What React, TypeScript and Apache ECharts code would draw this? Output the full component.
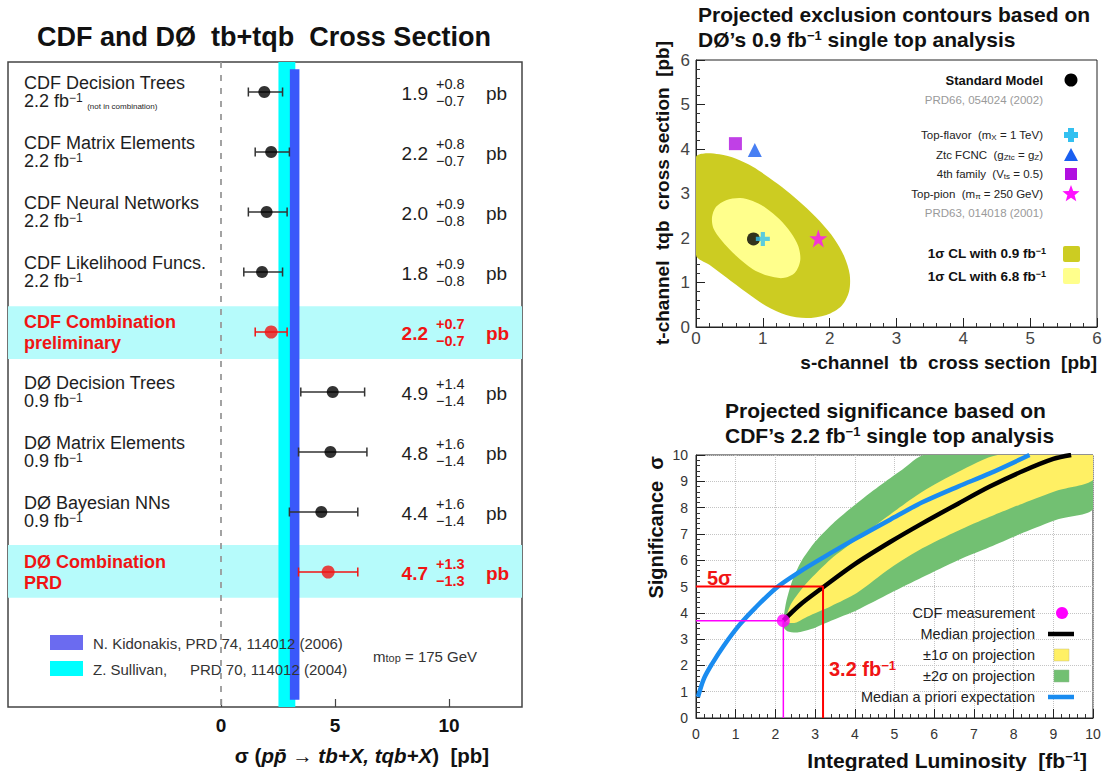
import React, { useEffect, useRef } from "react";
import * as echarts from "echarts";

const FONT = "'Liberation Sans', Arial, Helvetica, sans-serif";
const RED = "#f01414";
const INK = "#1e1e1e";

// ---------------- Left panel: cross-section summary ----------------
const measurementNames = [
  "CDF Decision Trees", "CDF Matrix Elements", "CDF Neural Networks", "CDF Likelihood Funcs.",
  "CDF Combination", "DØ Decision Trees", "DØ Matrix Elements", "DØ Bayesian NNs", "DØ Combination",
];
const measurementSubLabels = ["2.2 fb", "2.2 fb", "2.2 fb", "2.2 fb", "preliminary", "0.9 fb", "0.9 fb", "0.9 fb", "PRD"];
const subLabelHasInvFb = [true, true, true, true, false, true, true, true, false];
const measurementNotes = ["(not in combination)", "", "", "", "", "", "", "", ""];
const xsecCentral = [1.9, 2.2, 2.0, 1.8, 2.2, 4.9, 4.8, 4.4, 4.7];
const xsecErrUp = [0.8, 0.8, 0.9, 0.9, 0.7, 1.4, 1.6, 1.6, 1.3];
const xsecErrDown = [0.7, 0.7, 0.8, 0.8, 0.7, 1.4, 1.4, 1.4, 1.3];
const isCombination = [false, false, false, false, true, false, false, false, true];
const rowPositions = [0.5, 1.5, 2.5, 3.5, 4.5, 5.5, 6.5, 7.5, 8.5];
const combinationBands = [[4.07, 4.95], [8.05, 8.93]];
const kidonakisBand = [3.02, 3.44, 0.12, 10.63];
const sullivanBand = [2.52, 3.26, 0, 10.75];
const xsecTicks = [0, 5, 10];

// ---------------- Top-right panel: exclusion contours ----------------
const contour09 = [
  [0, 3.82], [0.12, 3.9], [0.35, 3.88], [0.6, 3.78], [0.85, 3.6], [1.1, 3.35], [1.35, 3.07],
  [1.6, 2.75], [1.85, 2.38], [2.07, 1.98], [2.22, 1.58], [2.3, 1.18], [2.29, 0.8], [2.18, 0.48],
  [1.95, 0.27], [1.65, 0.2], [1.35, 0.27], [1.05, 0.47], [0.75, 0.78], [0.45, 1.12], [0.2, 1.4], [0, 1.62],
];
const contour68 = [
  [0.24, 2.47], [0.3, 2.7], [0.45, 2.85], [0.66, 2.9], [0.85, 2.83], [1.05, 2.67], [1.25, 2.42],
  [1.42, 2.12], [1.53, 1.82], [1.56, 1.5], [1.48, 1.22], [1.3, 1.1], [1.08, 1.15], [0.85, 1.3],
  [0.6, 1.6], [0.38, 1.95], [0.26, 2.22],
];
const standardModel = [0.86, 1.98];
const topFlavor = [1.0, 1.98];
const ztcFCNC = [0.88, 3.98];
const fourthFamily = [0.59, 4.12];
const topPion = [1.83, 1.99];

// ---------------- Bottom-right panel: projected significance ----------------
const aprioriExpectation = [
  [0.05, 0.8], [0.2, 1.5], [0.4, 2.05], [0.7, 2.75], [1.1, 3.55], [1.5, 4.2], [2.05, 4.98],
  [2.6, 5.55], [3.2, 6.1], [4.0, 6.8], [4.9, 7.55], [5.7, 8.2], [6.6, 8.8], [7.4, 9.3], [8.4, 10.0],
];
const medianProjection = [
  [2.2, 3.7], [2.6, 4.28], [3.2, 4.97], [4.0, 5.85], [4.9, 6.7], [5.7, 7.4], [6.6, 8.15],
  [7.4, 8.8], [8.25, 9.4], [9.0, 9.85], [9.45, 10.0],
];
const oneSigmaUpper = [[2.25, 3.75], [2.4, 4.35], [2.8, 5.15], [3.4, 6.05], [4.05, 6.8], [4.9, 7.75], [5.7, 8.6], [6.6, 9.35], [7.6, 10], [10, 10]];
const oneSigmaLower = [[2.25, 3.65], [2.5, 3.62], [2.8, 3.85], [3.4, 4.25], [4.05, 4.75], [4.9, 5.7], [5.7, 6.45], [6.6, 7.12], [7.4, 7.65], [8.25, 8.17], [9.1, 8.65], [10, 9.05]];
const twoSigmaUpper = [[2.18, 3.55], [2.27, 4.4], [2.42, 5.2], [2.65, 5.95], [3.0, 6.7], [3.45, 7.4], [4.0, 8.1], [4.6, 8.8], [5.2, 9.45], [5.75, 10], [10, 10]];
const twoSigmaLower = [[2.18, 3.5], [2.3, 3.3], [2.55, 3.25], [2.9, 3.38], [3.4, 3.7], [4.05, 4.1], [4.9, 4.75], [5.7, 5.35], [6.6, 6.0], [7.4, 6.5], [8.25, 7.05], [9.1, 7.55], [10, 7.95]];
const cdfMeasurement = [2.2, 3.7];
const fiveSigmaPoint = [3.2, 5.0];

// ---------------- helpers ----------------
const LEFT_MIN = -9.342;
const LEFT_MAX = 13.202;
const ROW_MAX = 10.75;

const gText = (x: number, y: number, text: string, o: any = {}) => ({
  type: "text",
  x,
  y,
  z: 100,
  rotation: o.rotation || 0,
  silent: true,
  style: {
    text,
    fontFamily: FONT,
    fill: o.fill || INK,
    fontSize: o.size || 14,
    fontWeight: o.weight || "normal",
    fontStyle: o.style || "normal",
    textAlign: o.align || "left",
    align: o.align || "left",
    textVerticalAlign: "middle",
    verticalAlign: "middle",
    rich: o.rich,
  },
});

const richSet = (size: number, fill: string, weight = "normal") => ({
  m: { fontSize: size, fontFamily: FONT, fill, color: fill, fontWeight: weight },
  sup: { fontSize: Math.round(size * 0.64), fontFamily: FONT, fill, color: fill, fontWeight: weight, verticalAlign: "top" },
  sub: { fontSize: Math.round(size * 0.7), fontFamily: FONT, fill, color: fill, fontWeight: weight, verticalAlign: "bottom" },
});

const starPts = (cx: number, cy: number, R: number, r: number) =>
  Array.from({ length: 10 }, (_, k) => {
    const a = -Math.PI / 2 + (k * Math.PI) / 5;
    const rad = k % 2 === 0 ? R : r;
    return [cx + rad * Math.cos(a), cy + rad * Math.sin(a)];
  });
const plusPts = (cx: number, cy: number, s: number, t: number) => [
  [cx - t, cy - s], [cx + t, cy - s], [cx + t, cy - t], [cx + s, cy - t], [cx + s, cy + t], [cx + t, cy + t],
  [cx + t, cy + s], [cx - t, cy + s], [cx - t, cy + t], [cx - s, cy + t], [cx - s, cy - t], [cx - t, cy - t],
];

const polygonSeries = (axis: number, pts: number[][], fill: string, z: number, smooth = 0.25) => ({
  type: "custom",
  xAxisIndex: axis,
  yAxisIndex: axis,
  z,
  silent: true,
  clip: true,
  data: [[pts[0][0], pts[0][1]]],
  renderItem: (_p: any, api: any) => ({
    type: "polygon",
    shape: { points: pts.map((p) => api.coord(p)), smooth },
    style: { fill },
  }),
});

const rectSeries = (bands: number[][], fill: string, z: number, fullWidth: boolean) => ({
  type: "custom",
  xAxisIndex: 0,
  yAxisIndex: 0,
  z,
  silent: true,
  data: bands.map((b) => [b[0], b[1]]),
  renderItem: (params: any, api: any) => {
    const b = bands[params.dataIndex];
    const a = fullWidth ? api.coord([LEFT_MIN, b[0]]) : api.coord([b[0], b[2]]);
    const c = fullWidth ? api.coord([LEFT_MAX, b[1]]) : api.coord([b[1], b[3]]);
    return {
      type: "rect",
      shape: { x: Math.min(a[0], c[0]), y: Math.min(a[1], c[1]), width: Math.abs(c[0] - a[0]), height: Math.abs(c[1] - a[1]) },
      style: { fill },
    };
  },
});

const sciAxis = (gridIndex: number, min: number, max: number, fontSize: number, color: string, margin: number, grid: boolean) => ({
  type: "value",
  gridIndex,
  min,
  max,
  interval: 1,
  axisLine: { show: true, onZero: false, lineStyle: { color: "#222", width: 1 } },
  axisTick: { show: true, inside: true, length: 9, lineStyle: { color: "#222" } },
  minorTick: { show: true, splitNumber: 5, length: 4, lineStyle: { color: "#333" } },
  axisLabel: { fontSize, color, fontFamily: FONT, margin },
  splitLine: { show: grid, lineStyle: { color: "#c4c4c4", type: "dotted", width: 1 } },
});

function buildOption() {
  // ---------- left table text ----------
  const tableRender = (params: any, api: any) => {
    const i = params.dataIndex;
    const cy = api.coord([0, rowPositions[i]])[1];
    const combo = isCombination[i];
    const fill = combo ? RED : INK;
    const weight = combo ? "bold" : "normal";
    const off = combo ? 10.5 : 9;
    const rich: any = richSet(18, fill, weight);
    rich.note = { fontSize: 8, fontFamily: FONT, fill, verticalAlign: "bottom" };
    let sub = `{m|${measurementSubLabels[i]}}`;
    if (subLabelHasInvFb[i]) sub += `{sup|−1}`;
    if (measurementNotes[i]) sub += `{note|  ${measurementNotes[i]}}`;
    const mk = (x: number, y: number, text: string, size: number, align: string, r?: any) => ({
      type: "text",
      x,
      y,
      style: {
        text, fill, fontFamily: FONT, fontSize: size, fontWeight: weight,
        textAlign: align, align, textVerticalAlign: "middle", verticalAlign: "middle", rich: r,
      },
    });
    return {
      type: "group",
      children: [
        mk(24, cy - off, measurementNames[i], 18, "left"),
        mk(24, cy + off, sub, 18, "left", rich),
        mk(428, cy + 1, xsecCentral[i].toFixed(1), 19, "right"),
        mk(436, cy - 8, "+" + xsecErrUp[i].toFixed(1), 14.5, "left"),
        mk(436, cy + 9, "−" + xsecErrDown[i].toFixed(1), 14.5, "left"),
        mk(486, cy + 1, "pb", 19, "left"),
      ],
    };
  };

  const errorRender = (params: any, api: any) => {
    const i = params.dataIndex;
    const y = rowPositions[i];
    const a = api.coord([xsecCentral[i] - xsecErrDown[i], y]);
    const b = api.coord([xsecCentral[i] + xsecErrUp[i], y]);
    const stroke = isCombination[i] ? RED : "#333";
    const ls = { stroke, lineWidth: 1.5 };
    return {
      type: "group",
      children: [
        { type: "line", shape: { x1: a[0], y1: a[1], x2: b[0], y2: b[1] }, style: ls },
        { type: "line", shape: { x1: a[0], y1: a[1] - 4.5, x2: a[0], y2: a[1] + 4.5 }, style: ls },
        { type: "line", shape: { x1: b[0], y1: b[1] - 4.5, x2: b[0], y2: b[1] + 4.5 }, style: ls },
      ],
    };
  };

  const twoSigmaPoly = [...twoSigmaUpper, ...twoSigmaLower.slice().reverse()];
  const oneSigmaPoly = [...oneSigmaUpper, ...oneSigmaLower.slice().reverse()];

  const graphic: any[] = [
    // left panel
    gText(264, 37, "CDF and DØ  tb+tqb  Cross Section", { size: 27, weight: "bold", align: "center", fill: "#111" }),
    { type: "rect", z: 100, shape: { x: 50, y: 635, width: 33, height: 15 }, style: { fill: "#6b6bf0" } },
    { type: "rect", z: 100, shape: { x: 50, y: 661, width: 33, height: 15 }, style: { fill: "#00ffff" } },
    gText(93, 643, "N. Kidonakis, PRD 74, 114012 (2006)", { size: 15, fill: "#333" }),
    gText(93, 669, "Z. Sullivan,", { size: 15, fill: "#333" }),
    gText(190, 669, "PRD 70, 114012 (2004)", { size: 15, fill: "#333" }),
    gText(373, 656, "{m|m}{sub|top}{m| = 175 GeV}", { size: 14, fill: "#333", rich: richSet(15, "#333") }),
    gText(362, 755, "{n|σ (}{i|pp̄}{n| → }{i|tb+X, tqb+X}{n|)  [pb]}", {
      size: 20.5, weight: "bold", align: "center", fill: "#111",
      rich: {
        n: { fontSize: 20.5, fontWeight: "bold", fontFamily: FONT, fill: "#111" },
        i: { fontSize: 20.5, fontWeight: "bold", fontStyle: "italic", fontFamily: FONT, fill: "#111" },
      },
    }),

    // top-right panel
    gText(698, 14, "Projected exclusion contours based on", { size: 21, weight: "bold", fill: "#111" }),
    gText(698, 39, "{m|DØ’s 0.9 fb}{sup|−1}{m| single top analysis}", { size: 21, weight: "bold", fill: "#111", rich: richSet(21, "#111", "bold") }),
    gText(1097, 362, "s-channel  tb  cross section  [pb]", { size: 19, weight: "bold", align: "right", fill: "#111" }),
    gText(662, 193, "t-channel  tqb  cross section  [pb]", { size: 19, weight: "bold", align: "center", fill: "#111", rotation: Math.PI / 2 }),
    gText(1043, 80, "Standard Model", { size: 13, weight: "bold", align: "right", fill: "#111" }),
    gText(1043, 100, "PRD66, 054024 (2002)", { size: 11.5, align: "right", fill: "#9a9a9a" }),
    gText(1043, 135, "{m|Top-flavor  (m}{sub|X}{m| = 1 TeV)}", { size: 11.5, align: "right", rich: richSet(11.5, "#222") }),
    gText(1043, 155, "{m|Ztc FCNC  (g}{sub|Ztc}{m| = g}{sub|Z}{m|)}", { size: 11.5, align: "right", rich: richSet(11.5, "#222") }),
    gText(1043, 174, "{m|4th family  (V}{sub|ts}{m| = 0.5)}", { size: 11.5, align: "right", rich: richSet(11.5, "#222") }),
    gText(1043, 194, "{m|Top-pion  (m}{sub|π}{m| = 250 GeV)}", { size: 11.5, align: "right", rich: richSet(11.5, "#222") }),
    gText(1043, 213, "PRD63, 014018 (2001)", { size: 11.5, align: "right", fill: "#9a9a9a" }),
    gText(1046, 253, "{m|1σ CL with 0.9 fb}{sup|−1}", { size: 13.5, weight: "bold", align: "right", rich: richSet(13.5, "#111", "bold") }),
    gText(1046, 276, "{m|1σ CL with 6.8 fb}{sup|−1}", { size: 13.5, weight: "bold", align: "right", rich: richSet(13.5, "#111", "bold") }),
    { type: "circle", z: 100, shape: { cx: 1071, cy: 80, r: 6.5 }, style: { fill: "#000" } },
    { type: "polygon", z: 100, shape: { points: plusPts(1071, 135, 7, 3) }, style: { fill: "#33c0f0" } },
    { type: "polygon", z: 100, shape: { points: [[1071, 148], [1078, 161], [1064, 161]] }, style: { fill: "#1a5ff0" } },
    { type: "rect", z: 100, shape: { x: 1065, y: 168, width: 12, height: 12 }, style: { fill: "#b010e0" } },
    { type: "polygon", z: 100, shape: { points: starPts(1071, 194, 9, 3.8) }, style: { fill: "#ff10ff" } },
    { type: "rect", z: 100, shape: { x: 1063, y: 246, width: 17, height: 16, r: 2 }, style: { fill: "#cccc22" } },
    { type: "rect", z: 100, shape: { x: 1063, y: 268, width: 17, height: 16, r: 2 }, style: { fill: "#ffff8c" } },

    // bottom-right panel
    gText(725, 410, "Projected significance based on", { size: 21, weight: "bold", fill: "#111" }),
    gText(725, 435, "{m|CDF’s 2.2 fb}{sup|−1}{m| single top analysis}", { size: 21, weight: "bold", fill: "#111", rich: richSet(21, "#111", "bold") }),
    gText(1087, 760, "{m|Integrated Luminosity  [fb}{sup|−1}{m|]}", { size: 21, weight: "bold", align: "right", rich: richSet(21, "#111", "bold") }),
    gText(656, 456, "Significance  σ", { size: 20, weight: "bold", align: "right", fill: "#111", rotation: Math.PI / 2 }),
    gText(707, 578, "5σ", { size: 20, weight: "bold", fill: RED }),
    gText(829, 669, "{m|3.2 fb}{sup|−1}", { size: 20, weight: "bold", rich: richSet(20, RED, "bold") }),
    gText(1035, 613, "CDF measurement", { size: 14.5, align: "right", fill: "#222" }),
    gText(1035, 634, "Median projection", { size: 14.5, align: "right", fill: "#222" }),
    gText(1035, 655, "±1σ on projection", { size: 14.5, align: "right", fill: "#222" }),
    gText(1035, 676, "±2σ on projection", { size: 14.5, align: "right", fill: "#222" }),
    gText(1035, 697, "Median a priori expectation", { size: 14.5, align: "right", fill: "#222" }),
    { type: "circle", z: 100, shape: { cx: 1062, cy: 613, r: 6 }, style: { fill: "#ff00ff" } },
    { type: "line", z: 100, shape: { x1: 1048, y1: 634, x2: 1074, y2: 634 }, style: { stroke: "#000", lineWidth: 4.5 } },
    { type: "rect", z: 100, shape: { x: 1054, y: 649, width: 15, height: 12 }, style: { fill: "#fff064", stroke: "#c8c080", lineWidth: 0.5 } },
    { type: "rect", z: 100, shape: { x: 1054, y: 670, width: 15, height: 12 }, style: { fill: "#72c072", stroke: "#90b890", lineWidth: 0.5 } },
    { type: "line", z: 100, shape: { x1: 1048, y1: 697, x2: 1074, y2: 697 }, style: { stroke: "#1a8cf0", lineWidth: 4.5 } },
  ];

  return {
    animation: false,
    backgroundColor: "#fff",
    textStyle: { fontFamily: FONT },
    grid: [
      { left: 8, top: 62, width: 514, height: 645, show: true, borderColor: "#444", borderWidth: 1.5, backgroundColor: "transparent" },
      { left: 696, top: 60, width: 401, height: 267, show: true, borderColor: "#222", borderWidth: 1, backgroundColor: "transparent" },
      { left: 696, top: 455, width: 397, height: 263, show: true, borderColor: "#222", borderWidth: 1, backgroundColor: "transparent" },
    ],
    xAxis: [
      {
        type: "value",
        gridIndex: 0,
        min: LEFT_MIN,
        max: LEFT_MAX,
        axisLine: { show: false, onZero: false },
        splitLine: { show: false },
        axisTick: { show: true, inside: true, length: 8, customValues: xsecTicks, lineStyle: { color: "#444", width: 1.2 } },
        axisLabel: { customValues: xsecTicks, fontSize: 19, fontWeight: "bold", color: "#111", fontFamily: FONT, margin: 9 },
      },
      sciAxis(1, 0, 6, 17, "#444", 3, false),
      sciAxis(2, 0, 10, 14, "#333", 9, true),
    ],
    yAxis: [
      { type: "value", gridIndex: 0, min: 0, max: ROW_MAX, inverse: true, show: false },
      sciAxis(1, 0, 6, 17, "#444", 6, false),
      sciAxis(2, 0, 10, 14, "#333", 8, true),
    ],
    series: [
      // ----- left panel -----
      rectSeries(combinationBands, "#b6fbfb", 1, true),
      rectSeries([sullivanBand], "#00ffff", 2, false),
      rectSeries([kidonakisBand], "#3a58fa", 3, false),
      {
        type: "line",
        xAxisIndex: 0,
        yAxisIndex: 0,
        z: 4,
        silent: true,
        symbol: "none",
        data: [[0, 0], [0, ROW_MAX]],
        lineStyle: { color: "#999", width: 1.8, type: [6, 7] },
      },
      {
        type: "custom",
        xAxisIndex: 0,
        yAxisIndex: 0,
        z: 5,
        silent: true,
        data: xsecCentral.map((v, i) => [v, rowPositions[i]]),
        renderItem: errorRender,
      },
      {
        type: "scatter",
        xAxisIndex: 0,
        yAxisIndex: 0,
        z: 6,
        silent: true,
        symbol: "circle",
        symbolSize: 12,
        data: xsecCentral.map((v, i) => ({
          value: [v, rowPositions[i]],
          symbolSize: isCombination[i] ? 13 : 12,
          itemStyle: { color: isCombination[i] ? RED : "#000" },
        })),
      },
      {
        type: "custom",
        xAxisIndex: 0,
        yAxisIndex: 0,
        z: 7,
        silent: true,
        data: rowPositions.map((r) => [0, r]),
        renderItem: tableRender,
      },

      // ----- top-right panel -----
      polygonSeries(1, contour09, "#cccc22", 2, 0.3),
      polygonSeries(1, contour68, "#ffff8c", 3, 0.3),
      { type: "scatter", xAxisIndex: 1, yAxisIndex: 1, z: 5, silent: true, symbol: "circle", symbolSize: 13, itemStyle: { color: "#000" }, data: [standardModel] },
      { type: "scatter", xAxisIndex: 1, yAxisIndex: 1, z: 6, silent: true, symbol: "path://M35,0H65V35H100V65H65V100H35V65H0V35H35Z", symbolSize: 14, itemStyle: { color: "#33c0f0" }, data: [topFlavor] },
      { type: "scatter", xAxisIndex: 1, yAxisIndex: 1, z: 5, silent: true, symbol: "triangle", symbolSize: 14, itemStyle: { color: "#1a5ff0" }, data: [ztcFCNC] },
      { type: "scatter", xAxisIndex: 1, yAxisIndex: 1, z: 5, silent: true, symbol: "rect", symbolSize: 13, itemStyle: { color: "#b010e0" }, data: [fourthFamily] },
      { type: "scatter", xAxisIndex: 1, yAxisIndex: 1, z: 5, silent: true, symbol: "path://M50,0L61.8,35.3L98.9,35.3L69.1,57.1L80.4,92.7L50,71L19.6,92.7L30.9,57.1L1.1,35.3L38.2,35.3Z", symbolSize: 18, itemStyle: { color: "#ff10ff" }, data: [topPion] },

      // ----- bottom-right panel -----
      polygonSeries(2, twoSigmaPoly, "#72c072", 2, 0.25),
      polygonSeries(2, oneSigmaPoly, "#fff064", 3, 0.25),
      {
        type: "line", xAxisIndex: 2, yAxisIndex: 2, z: 4, silent: true, symbol: "none", smooth: 0.3,
        data: aprioriExpectation, lineStyle: { color: "#1a8cf0", width: 4.5 },
      },
      {
        type: "line", xAxisIndex: 2, yAxisIndex: 2, z: 5, silent: true, symbol: "none", smooth: 0.3,
        data: medianProjection, lineStyle: { color: "#000", width: 4.5 },
      },
      {
        type: "line", xAxisIndex: 2, yAxisIndex: 2, z: 6, silent: true, symbol: "none",
        data: [[0, fiveSigmaPoint[1]], fiveSigmaPoint, [fiveSigmaPoint[0], 0]],
        lineStyle: { color: "#ff0000", width: 2 },
      },
      {
        type: "line", xAxisIndex: 2, yAxisIndex: 2, z: 6, silent: true, symbol: "none",
        data: [[0, cdfMeasurement[1]], cdfMeasurement, [cdfMeasurement[0], 0]],
        lineStyle: { color: "#ff00ff", width: 1.5 },
      },
      {
        type: "scatter", xAxisIndex: 2, yAxisIndex: 2, z: 7, silent: true, symbol: "circle", symbolSize: 13,
        itemStyle: { color: "#ff00ff" }, data: [cdfMeasurement],
      },
    ],
    graphic,
  };
}

export default function App() {
  const ref = useRef<HTMLDivElement>(null);
  useEffect(() => {
    if (!ref.current) return;
    const chart = echarts.init(ref.current, null, { renderer: "svg" });
    chart.setOption(buildOption() as any);
    return () => chart.dispose();
  }, []);
  return (
    <div
      ref={ref}
      style={{ position: "fixed", left: 0, top: 0, width: 1105, height: 771, background: "#fff" }}
    />
  );
}
